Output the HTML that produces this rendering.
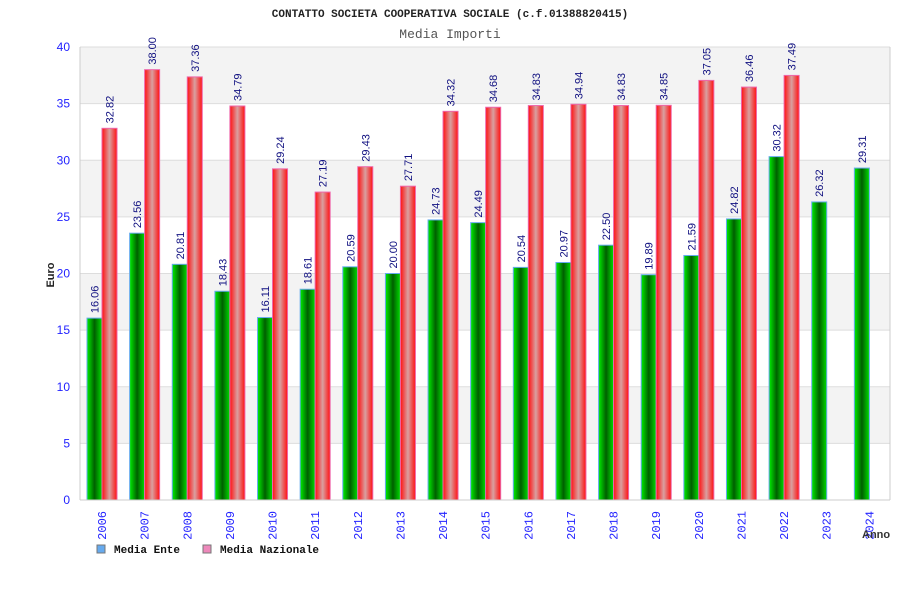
<!DOCTYPE html>
<html><head><meta charset="utf-8"><style>
body{margin:0;background:#fff;width:900px;height:600px;overflow:hidden}
svg{display:block}
</style></head><body>
<svg id="chart" width="900" height="600" xmlns="http://www.w3.org/2000/svg">
<defs>
<linearGradient id="gG" x1="0" x2="1" y1="0" y2="0"><stop offset="0" stop-color="#00ee00"/><stop offset="0.5" stop-color="#005f00"/><stop offset="1" stop-color="#00dd00"/></linearGradient>
<linearGradient id="gR" x1="0" x2="1" y1="0" y2="0"><stop offset="0" stop-color="#ff1010"/><stop offset="0.5" stop-color="#d9a0a0"/><stop offset="1" stop-color="#ff1010"/></linearGradient>
</defs>
<text x="450" y="17" text-anchor="middle" font-family="Liberation Mono, monospace" font-size="11" font-weight="bold" fill="#222">CONTATTO SOCIETA COOPERATIVA SOCIALE (c.f.01388820415)</text>
<text x="450" y="38" text-anchor="middle" font-family="Liberation Mono, monospace" font-size="13" fill="#555">Media Importi</text>
<g id="bands"></g>
<g id="grid"></g>
<g id="bars"></g>
<g id="axes"></g>
<text transform="translate(54,275) rotate(-90)" text-anchor="middle" font-family="Liberation Sans, sans-serif" font-size="11" font-weight="bold" fill="#222">Euro</text>
<text x="862" y="538" font-family="Liberation Sans, sans-serif" font-size="11" font-weight="bold" fill="#333">Anno</text>
<g>
<rect x="97" y="545" width="8" height="8" fill="#66aaee" stroke="#777"/>
<text x="114" y="553" font-family="Liberation Mono, monospace" font-size="11" font-weight="bold" fill="#111">Media Ente</text>
<rect x="203" y="545" width="8" height="8" fill="#ee88bb" stroke="#777"/>
<text x="220" y="553" font-family="Liberation Mono, monospace" font-size="11" font-weight="bold" fill="#111">Media Nazionale</text>
</g>
</svg>
<script>
const categories=["2006","2007","2008","2009","2010","2011","2012","2013","2014","2015","2016","2017","2018","2019","2020","2021","2022","2023","2024"];
const enteValues=[16.06,23.56,20.81,18.43,16.11,18.61,20.59,20.00,24.73,24.49,20.54,20.97,22.50,19.89,21.59,24.82,30.32,26.32,29.31];
const nazValues=[32.82,38.00,37.36,34.79,29.24,27.19,29.43,27.71,34.32,34.68,34.83,34.94,34.83,34.85,37.05,36.46,37.49,null,null];
const yTicks=[0,5,10,15,20,25,30,35,40];
const NS="http://www.w3.org/2000/svg";
const L=80,R=890,T=47,B=500,yMax=40;
const y=v=>B-(v/yMax)*(B-T);
const gw=(R-L)/categories.length;
const x=i=>L+i*gw;
function mk(tag,attrs,parent){const e=document.createElementNS(NS,tag);for(const k in attrs)e.setAttribute(k,attrs[k]);parent.appendChild(e);return e;}
const bands=document.getElementById('bands'),grid=document.getElementById('grid'),bars=document.getElementById('bars'),axes=document.getElementById('axes');
for(let i=0;i<yTicks.length-1;i++){
  const r=mk('rect',{x:L,y:y(yTicks[i+1]),width:R-L,height:y(yTicks[i])-y(yTicks[i+1]),fill:(i%2==1)?'#f3f3f3':'#ffffff'},bands);
  
  
}
yTicks.forEach(t=>{
  const g=mk('line',{x1:L,x2:R,y1:y(t),y2:y(t),stroke:'#dddddd'},grid);
  
  
  const tx=mk('text',{x:70,y:y(t)+4,'text-anchor':'end','font-family':'Liberation Sans, sans-serif','font-size':'12',fill:'#2222ff'},axes);
  tx.textContent=t;
  
  
});
const la=mk('line',{x1:L,x2:L,y1:T,y2:B,stroke:'#cccccc'},grid);


const rb=mk('line',{x1:R,x2:R,y1:T,y2:B,stroke:'#cccccc'},grid);


const lb=mk('line',{x1:L,x2:R,y1:B,y2:B,stroke:'#cccccc'},axes);


function label(cx,v){
  const t=mk('text',{transform:`translate(${cx+4},${y(v)-5}) rotate(-90)`,'font-family':'Liberation Sans, sans-serif','font-size':'11',fill:'#101080'},bars);
  t.textContent=v.toFixed(2);
  
  
}
categories.forEach((c,i)=>{
  const bw=15,x0=x(i)+7;
  const v=enteValues[i];
  const b=mk('rect',{x:x0,y:y(v),width:bw,height:B-y(v),fill:'url(#gG)',stroke:'#66aaee','stroke-width':'1'},bars);
  
  
  label(x0+bw/2,v);
  const n=nazValues[i];
  if(n!=null){
    const b2=mk('rect',{x:x0+bw,y:y(n),width:bw,height:B-y(n),fill:'url(#gR)',stroke:'#ee66aa','stroke-width':'1'},bars);
    
    
    label(x0+bw*1.5,n);
  }
  const xl=mk('text',{transform:`translate(${x0+bw+4},${511}) rotate(-90)`,'text-anchor':'end','font-family':'Liberation Mono, monospace','font-size':'12',fill:'#2222ff'},axes);
  xl.textContent=c;
  
  
});
</script>
</body></html>
